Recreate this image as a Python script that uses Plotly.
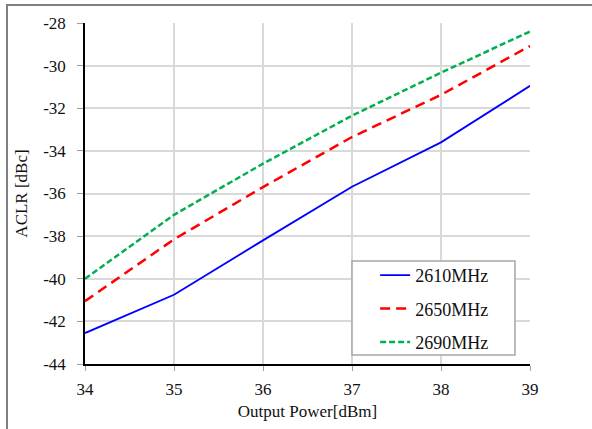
import plotly.graph_objects as go

power = [34, 35, 36, 37, 38, 39]
aclr_2610 = [-42.55, -40.75, -38.2, -35.68, -33.6, -30.95]
aclr_2650 = [-41.05, -38.15, -35.7, -33.35, -31.37, -29.08]
aclr_2690 = [-40.0, -37.0, -34.6, -32.35, -30.33, -28.4]
names = ["2610MHz", "2650MHz", "2690MHz"]
y_ticks = [-44, -42, -40, -38, -36, -34, -32, -30, -28]
x_ticks = [34, 35, 36, 37, 38, 39]

font_family = "Liberation Serif"
tick_font = dict(family=font_family, size=17, color="#111111")

fig = go.Figure()
fig.add_trace(go.Scatter(x=power, y=aclr_2610, mode="lines", name=names[0],
                         legendgroup="a", line=dict(color="#0000ff", width=1.8)))
fig.add_trace(go.Scatter(x=power, y=aclr_2650, mode="lines", name=names[1],
                         legendgroup="b", line=dict(color="#ff0000", width=2.5, dash="10px,6px")))
fig.add_trace(go.Scatter(x=power, y=aclr_2690, mode="lines", name=names[2],
                         legendgroup="c", line=dict(color="#00b050", width=2.5, dash="6px,3px")))

fig.update_layout(
    width=592, height=429,
    margin=dict(l=85, r=62, t=23, b=65),
    paper_bgcolor="white", plot_bgcolor="white",
    font=dict(family=font_family, size=17, color="#111111"),
    showlegend=True,
    legend=dict(x=0.652, y=0.314, xanchor="left", yanchor="top",
                bgcolor="rgba(0,0,0,0)", borderwidth=0,
                font=dict(size=18, family=font_family, color="#111111"),
                tracegroupgap=7),
    xaxis=dict(range=[34, 39], tickvals=x_ticks, ticktext=[str(v) for v in x_ticks],
               tickfont=tick_font,
               showgrid=True, gridcolor="#d9d9d9", gridwidth=1.5,
               showline=True, linecolor="black", linewidth=1.5,
               ticks="outside", ticklen=5, tickcolor="#a0a0a0",
               ticklabelstandoff=4,
               zeroline=False, automargin=False,
               title=dict(text="Output Power[dBm]", standoff=7,
                          font=dict(family=font_family, size=17))),
    yaxis=dict(range=[-44, -28], tickvals=y_ticks, ticktext=[str(v) for v in y_ticks],
               tickfont=tick_font,
               showgrid=True, gridcolor="#d9d9d9", gridwidth=1.5,
               showline=True, linecolor="black", linewidth=1.5,
               ticks="outside", ticklen=6, tickcolor="#a0a0a0",
               ticklabelstandoff=8,
               zeroline=False, automargin=False,
               title=dict(text="ACLR [dBc]", standoff=11,
                          font=dict(family=font_family, size=17))),
    shapes=[
        dict(type="rect", xref="paper", yref="paper",
             x0=(7 - 85) / 445, x1=1.3, y0=-0.3, y1=(364 - 5) / 341,
             line=dict(color="#808080", width=2), fillcolor="rgba(0,0,0,0)", layer="below"),
        dict(type="rect", xref="paper", yref="paper",
             x0=(352 - 85) / 445, x1=(515 - 85) / 445,
             y0=(364 - 355) / 341, y1=(364 - 261) / 341,
             line=dict(color="#a6a6a6", width=1.5), fillcolor="white", layer="above"),
    ],
)

fig.write_html("out.html", config={"displayModeBar": False},
               post_script="document.body.style.margin='0';")
